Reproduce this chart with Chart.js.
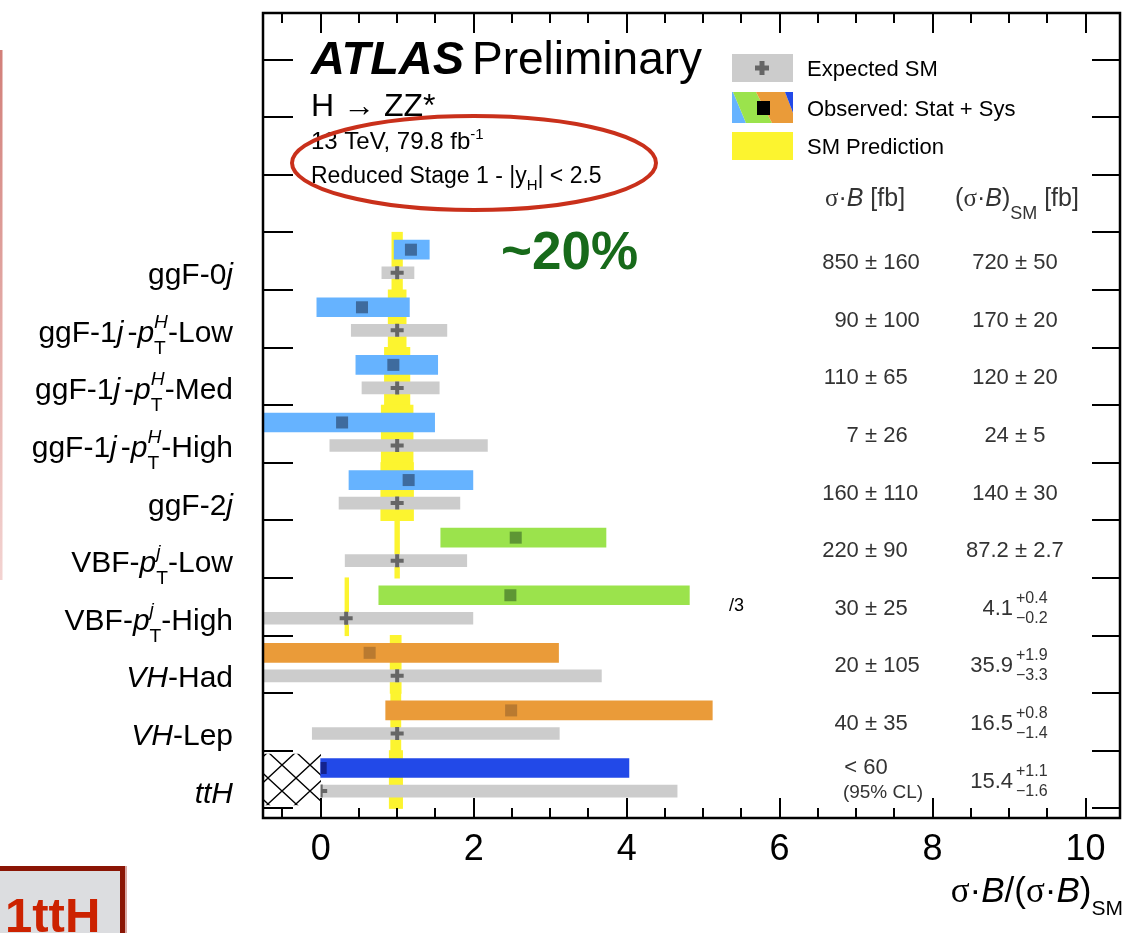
<!DOCTYPE html>
<html>
<head>
<meta charset="utf-8">
<script src="https://cdn.jsdelivr.net/npm/chart.js@4.4.1/dist/chart.umd.min.js"></script>
<style>
  html, body { margin: 0; padding: 0; background: #ffffff; }
  canvas { display: block; }
</style>
</head>
<body>
<canvas id="chart" width="1135" height="933"></canvas>
<script>
// ---- Production bins (top to bottom) ----
const categories = ['ggF-0j', 'ggF-1j-pT-Low', 'ggF-1j-pT-Med', 'ggF-1j-pT-High', 'ggF-2j',
                    'VBF-pT-Low', 'VBF-pT-High', 'VH-Had', 'VH-Lep', 'ttH'];

// Observed sigma*B / (sigma*B)_SM, with total (stat + sys) interval
const obsRatio = [1.18, 0.54, 0.95, 0.28, 1.15, 2.55, 2.48, 0.64, 2.49, 0.00];
const obsLow   = [0.96, -0.05, 0.46, -0.80, 0.37, 1.57, 0.76, -1.85, 0.85, 0.00];
const obsHigh  = [1.42, 1.16, 1.53, 1.49, 1.99, 3.73, 4.82, 3.11, 5.12, 4.03];

// Expected (SM) ratio with its expected interval
const expRatio = [1, 1, 1, 1, 1, 1, 1, 1, 1, 0];
const expLow   = [0.80, 0.40, 0.54, 0.12, 0.24, 0.32, -1.32, -1.67, -0.11, 0.00];
const expHigh  = [1.22, 1.65, 1.55, 2.18, 1.82, 1.91, 1.99, 3.67, 3.12, 4.66];

// Measured cross sections [fb]
const obsXsec = [850, 90, 110, 7, 160, 220, 30, 20, 40, null];
const obsErr  = [160, 100, 65, 26, 110, 90, 25, 105, 35, null];
const ttHLimit = 60;

// SM predictions [fb]
const smXsec = [720, 170, 120, 24, 140, 87.2, 4.1, 35.9, 16.5, 15.4];
const smUp   = [50, 20, 20, 5, 30, 2.7, 0.4, 1.9, 0.8, 1.1];
const smDown = [50, 20, 20, 5, 30, 2.7, 0.2, 3.3, 1.4, 1.6];
// VBF high-pT bin is shown divided by 3
const displayDivisor = [1, 1, 1, 1, 1, 1, 3, 1, 1, 1];

const xTickLabels = [0, 2, 4, 6, 8, 10];

// ---- Layout constants ----
const X_MIN = -0.754, X_MAX = 10.45;
const Y_MIN = -0.168, Y_MAX = 13.81;
const N = categories.length;
const rowPos = i => N - 1 - i + 0.5;
const OBS_SHIFT = 0.2, EXP_SHIFT = -0.2;
const AREA = { left: 263, right: 1120, top: 13, bottom: 818 };
const ZERO_OFFSET = (AREA.right - AREA.left) * (0 - X_MIN) / (X_MAX - X_MIN);

// ---- Colours ----
const YELLOW = '#fcf42f';
const GREY = '#cccccc';
const groupOf = i => (i < 5 ? 0 : i < 7 ? 1 : i < 9 ? 2 : 3);
const barColours = ['#66b3ff', '#9be34c', '#ea9b39', '#2249e8'];
const markColours = ['#3e6b9e', '#5e9634', '#b97a30', '#13238f'];

// derived bands
const smLo = smXsec.map((v, i) => (1 - smDown[i] / v) / displayDivisor[i]);
const smHi = smXsec.map((v, i) => (1 + smUp[i] / v) / displayDivisor[i]);
const expCentre = expRatio.map((v, i) => v / displayDivisor[i]);

function makeHatch(ctx) {
  const c = document.createElement('canvas');
  c.width = 28; c.height = 26;
  const g = c.getContext('2d');
  g.strokeStyle = '#000';
  g.lineWidth = 1.3;
  g.beginPath();
  g.moveTo(0, 0); g.lineTo(28, 26);
  g.moveTo(28, 0); g.lineTo(0, 26);
  g.stroke();
  const p = ctx.createPattern(c, 'repeat');
  if (p.setTransform) p.setTransform(new DOMMatrix([1, 0, 0, 1, 268, 752]));
  return p;
}

// ---- Rich text helpers ----
function fontStr(f, size) {
  const fam = f === 's' ? '"Liberation Serif", "DejaVu Serif", serif' : '"Liberation Sans", Arial, Helvetica, sans-serif';
  const style = (f === 'i' || f === 'bi') ? 'italic ' : '';
  const weight = (f === 'b' || f === 'bi') ? 'bold ' : '';
  return style + weight + size + 'px ' + fam;
}
function segW(ctx, s, size) {
  if (s.sup || s.sub) {
    const ss = s.sz || size * 0.64;
    let w = 0;
    for (const p of [s.sup, s.sub]) {
      if (p) { ctx.font = fontStr(p.f, ss); w = Math.max(w, ctx.measureText(p.t).width); }
    }
    return w + (s.dx || 0);
  }
  ctx.font = fontStr(s.f, s.sz || size);
  return ctx.measureText(s.t).width + (s.dx || 0);
}
function drawRich(ctx, segs, x, base, size, align) {
  const total = segs.reduce((a, s) => a + segW(ctx, s, size), 0);
  let cx = align === 'right' ? x - total : align === 'center' ? x - total / 2 : x;
  ctx.textAlign = 'left';
  for (const s of segs) {
    const w = segW(ctx, s, size);
    const dx = s.dx || 0;
    if (s.sup || s.sub) {
      const ss = s.sz || size * 0.64;
      if (s.sup) { ctx.font = fontStr(s.sup.f, ss); ctx.fillText(s.sup.t, cx + dx, base - size * 0.47); }
      if (s.sub) { ctx.font = fontStr(s.sub.f, ss); ctx.fillText(s.sub.t, cx + dx, base + size * 0.4); }
    } else {
      ctx.font = fontStr(s.f, s.sz || size);
      ctx.fillText(s.t, cx + dx, base + (s.dy || 0));
    }
    cx += w;
  }
}

const ptH = { sup: { t: 'H', f: 'i' }, sub: { t: 'T' } };
const ptJ = { sup: { t: 'j', f: 'i' }, sub: { t: 'T' } };
const categoryText = [
  [{ t: 'ggF-0' }, { t: 'j', f: 'i' }],
  [{ t: 'ggF-1' }, { t: 'j', f: 'i' }, { t: '-', dx: 4 }, { t: 'p', f: 'i' }, ptH, { t: '-Low' }],
  [{ t: 'ggF-1' }, { t: 'j', f: 'i' }, { t: '-', dx: 4 }, { t: 'p', f: 'i' }, ptH, { t: '-Med' }],
  [{ t: 'ggF-1' }, { t: 'j', f: 'i' }, { t: '-', dx: 4 }, { t: 'p', f: 'i' }, ptH, { t: '-High' }],
  [{ t: 'ggF-2' }, { t: 'j', f: 'i' }],
  [{ t: 'VBF-' }, { t: 'p', f: 'i' }, ptJ, { t: '-Low' }],
  [{ t: 'VBF-' }, { t: 'p', f: 'i' }, ptJ, { t: '-High' }],
  [{ t: 'VH', f: 'i' }, { t: '-Had' }],
  [{ t: 'VH', f: 'i' }, { t: '-Lep' }],
  [{ t: 'ttH', f: 'i' }]
];

function pmText(ctx, val, err, cx, base, size) {
  ctx.font = fontStr('n', size);
  const wl = ctx.measureText(val + ' ').width;
  const wpm = ctx.measureText('\u00b1').width;
  ctx.textAlign = 'left';
  ctx.fillText(val + ' \u00b1 ' + err, cx - wl - wpm / 2, base);
}

// ---- Frame, ticks, labels and annotations ----
const framePlugin = {
  id: 'frame',
  afterDatasetsDraw(chart) {
    const { ctx, chartArea: a, scales: { x, y } } = chart;
    ctx.save();
    ctx.strokeStyle = '#000';
    ctx.lineWidth = 2;
    ctx.beginPath();
    for (let v = -0.5; v <= X_MAX + 1e-9; v += 0.5) {
      const px = Math.round(x.getPixelForValue(v));
      const major = Math.abs(v / 2 - Math.round(v / 2)) < 1e-6;
      const len = major ? 20 : 10;
      ctx.moveTo(px, a.bottom); ctx.lineTo(px, a.bottom - len);
      ctx.moveTo(px, a.top); ctx.lineTo(px, a.top + len);
    }
    for (let k = 0; k <= 13; k++) {
      const py = Math.round(y.getPixelForValue(k));
      ctx.moveTo(a.left, py); ctx.lineTo(a.left + 30, py);
      ctx.moveTo(a.right, py); ctx.lineTo(a.right - 28, py);
    }
    ctx.stroke();
    ctx.lineWidth = 2.5;
    ctx.strokeRect(a.left, a.top, a.right - a.left, a.bottom - a.top);
    ctx.restore();
  },
  afterDraw(chart) {
    const { ctx, chartArea: a, scales: { x, y } } = chart;
    ctx.save();
    ctx.textBaseline = 'alphabetic';
    ctx.fillStyle = '#000';

    // x tick labels
    ctx.font = fontStr('n', 36);
    ctx.textAlign = 'center';
    xTickLabels.forEach(v => ctx.fillText(String(v), x.getPixelForValue(v), 860));

    // axis title
    drawRich(ctx, [{ t: '\u03c3', f: 's' }, { t: '\u00b7' }, { t: 'B', f: 'i' }, { t: '/(' },
                   { t: '\u03c3', f: 's' }, { t: '\u00b7' }, { t: 'B', f: 'i' }, { t: ')' },
                   { t: 'SM', sz: 21, dy: 13 }], 1123, 902, 35, 'right');

    // category labels
    categoryText.forEach((segs, i) => {
      const py = y.getPixelForValue(rowPos(i));
      drawRich(ctx, segs, 233, py + 23, 30, 'right');
    });

    // ATLAS block
    ctx.textAlign = 'left';
    ctx.font = fontStr('bi', 47);
    ctx.fillText('ATLAS', 311, 74);
    ctx.font = fontStr('n', 46);
    ctx.fillText('Preliminary', 472, 74);
    ctx.font = fontStr('n', 32);
    ctx.fillText('H \u2192 ZZ*', 311, 116);
    drawRich(ctx, [{ t: '13 TeV, 79.8 fb' }, { t: '-1', sz: 15, dy: -10 }], 311, 149, 24, 'left');
    drawRich(ctx, [{ t: 'Reduced Stage 1 - |y' }, { t: 'H', sz: 15, dy: 7 }, { t: '| < 2.5' }], 311, 183, 23, 'left');

    // highlight ellipse
    ctx.strokeStyle = '#c9301b';
    ctx.lineWidth = 4;
    ctx.beginPath();
    ctx.ellipse(474, 163, 182, 47, 0, 0, Math.PI * 2);
    ctx.stroke();

    // ~20% note
    ctx.fillStyle = '#176a1a';
    ctx.font = fontStr('b', 53);
    ctx.fillText('~20%', 501, 269);

    // legend
    ctx.fillStyle = GREY;
    ctx.fillRect(732, 54, 61, 28);
    ctx.strokeStyle = '#666';
    ctx.lineWidth = 5;
    ctx.beginPath();
    ctx.moveTo(755, 68); ctx.lineTo(769, 68);
    ctx.moveTo(762, 61); ctx.lineTo(762, 75);
    ctx.stroke();

    ctx.save();
    ctx.beginPath(); ctx.rect(732, 92, 61, 31); ctx.clip();
    const stripes = [[barColours[0], 700, 700, 733, 746], [barColours[1], 733, 746, 756, 772],
                     [barColours[2], 756, 772, 785, 797], [barColours[3], 785, 797, 830, 830]];
    stripes.forEach(([c, t0, b0, t1, b1]) => {
      ctx.fillStyle = c;
      ctx.beginPath();
      ctx.moveTo(t0, 92); ctx.lineTo(t1, 92); ctx.lineTo(b1, 123); ctx.lineTo(b0, 123);
      ctx.closePath(); ctx.fill();
    });
    ctx.restore();
    ctx.fillStyle = '#000';
    ctx.fillRect(757, 101, 13, 14);

    ctx.fillStyle = YELLOW;
    ctx.fillRect(732, 132, 61, 28);

    ctx.fillStyle = '#000';
    ctx.font = fontStr('n', 22);
    ctx.textAlign = 'left';
    ctx.fillText('Expected SM', 807, 76);
    ctx.fillText('Observed: Stat + Sys', 807, 116);
    ctx.fillText('SM Prediction', 807, 154);

    // column headers
    ctx.fillStyle = '#333';
    drawRich(ctx, [{ t: '\u03c3', f: 's' }, { t: '\u00b7' }, { t: 'B', f: 'i' }, { t: ' [fb]' }], 865, 206, 25, 'center');
    drawRich(ctx, [{ t: '(' }, { t: '\u03c3', f: 's' }, { t: '\u00b7' }, { t: 'B', f: 'i' }, { t: ')' },
                   { t: 'SM', sz: 18, dy: 13 }, { t: ' [fb]' }], 1017, 206, 25, 'center');

    // cross-section columns
    categories.forEach((c, i) => {
      const py = y.getPixelForValue(rowPos(i));
      ctx.fillStyle = '#333';
      if (obsXsec[i] !== null) {
        pmText(ctx, obsXsec[i], obsErr[i], 871, py + 8, 22);
      } else {
        ctx.textAlign = 'center';
        ctx.font = fontStr('n', 22);
        ctx.fillText('< ' + ttHLimit, 866, py - 6);
        ctx.font = fontStr('n', 19);
        ctx.fillText('(95% CL)', 883, py + 18);
      }
      if (smUp[i] === smDown[i]) {
        pmText(ctx, smXsec[i], smUp[i], 1021, py + 8, 22);
      } else {
        ctx.font = fontStr('n', 22);
        ctx.textAlign = 'right';
        ctx.fillText(String(smXsec[i]), 1013, py + 8);
        ctx.font = fontStr('n', 16);
        ctx.textAlign = 'left';
        ctx.fillText('+' + smUp[i], 1016, py - 4);
        ctx.fillText('\u2212' + smDown[i], 1016, py + 16);
      }
    });

    // VBF high-pT scaling note
    ctx.fillStyle = '#000';
    ctx.font = fontStr('n', 18);
    ctx.textAlign = 'left';
    ctx.fillText('/3', 729, y.getPixelForValue(rowPos(6)) + 4);

    // slide decorations
    const grad = ctx.createLinearGradient(0, 50, 0, 580);
    grad.addColorStop(0, '#d27f79');
    grad.addColorStop(1, '#f3d3d1');
    ctx.fillStyle = grad;
    ctx.fillRect(0, 50, 2.5, 530);

    ctx.fillStyle = '#dcdde0';
    ctx.fillRect(0, 866, 124, 67);
    ctx.fillStyle = '#8a1505';
    ctx.fillRect(0, 866, 126, 5);
    ctx.fillRect(120, 866, 5, 67);
    ctx.fillStyle = '#d9a8a4';
    ctx.fillRect(125, 866, 2, 67);
    ctx.fillStyle = '#cc2200';
    ctx.font = fontStr('b', 49);
    ctx.textAlign = 'left';
    ctx.fillText('1ttH', 5, 932);

    ctx.restore();
  }
};

const ctx = document.getElementById('chart').getContext('2d');
const hatch = makeHatch(ctx);
const normalRows = categories.map((c, i) => i).filter(i => i < N - 1);
const ttHRow = N - 1;

new Chart(ctx, {
  type: 'bar',
  data: {
    datasets: [
      {
        type: 'scatter', label: 'Observed marker',
        data: normalRows.map(i => ({ x: obsRatio[i], y: rowPos(i) + OBS_SHIFT })),
        pointStyle: 'rect', pointRadius: 8.5, pointBorderWidth: 0,
        pointBackgroundColor: normalRows.map(i => markColours[groupOf(i)]),
        order: 1
      },
      {
        type: 'scatter', label: 'Expected marker',
        data: normalRows.map(i => ({ x: expCentre[i], y: rowPos(i) + EXP_SHIFT })),
        pointStyle: 'cross', pointRadius: 6.5, pointBorderWidth: 4,
        pointBorderColor: '#666666',
        order: 2
      },
      {
        type: 'scatter', label: 'ttH markers',
        data: [{ x: obsRatio[ttHRow], y: rowPos(ttHRow) + OBS_SHIFT },
               { x: expCentre[ttHRow], y: rowPos(ttHRow) + EXP_SHIFT }],
        pointStyle: ['rect', 'cross'], pointRadius: [8.5, 6.5], pointBorderWidth: [0, 4],
        pointBackgroundColor: [markColours[3], '#666666'],
        pointBorderColor: [markColours[3], '#666666'],
        clip: { left: -ZERO_OFFSET, top: 0, right: 0, bottom: 0 },
        order: 3
      },
      {
        type: 'bar', label: 'Observed: Stat + Sys', indexAxis: 'y', grouped: false,
        data: categories.map((c, i) => ({ x: [obsLow[i], obsHigh[i]], y: rowPos(i) + OBS_SHIFT })),
        backgroundColor: categories.map((c, i) => barColours[groupOf(i)]),
        borderWidth: 0, barThickness: 19, clip: 0, order: 4
      },
      {
        type: 'bar', label: 'Expected SM', indexAxis: 'y', grouped: false,
        data: categories.map((c, i) => ({ x: [expLow[i], expHigh[i]], y: rowPos(i) + EXP_SHIFT })),
        backgroundColor: GREY, borderWidth: 0, barThickness: 12, clip: 0, order: 5
      },
      {
        type: 'bar', label: 'ttH unphysical region', indexAxis: 'y', grouped: false,
        data: [{ x: [X_MIN, 0], y: rowPos(ttHRow) }],
        backgroundColor: hatch, borderWidth: 0, barThickness: 51, clip: 0, order: 6
      },
      {
        type: 'bar', label: 'SM Prediction', indexAxis: 'y', grouped: false,
        data: categories.map((c, i) => ({ x: [smLo[i], smHi[i]], y: rowPos(i) })),
        backgroundColor: YELLOW, borderWidth: 0, barThickness: 58, clip: 0, order: 7
      }
    ]
  },
  options: {
    responsive: false,
    devicePixelRatio: 1,
    animation: false,
    events: [],
    layout: { padding: { left: AREA.left, right: 1135 - AREA.right, top: AREA.top, bottom: 933 - AREA.bottom } },
    scales: {
      x: { type: 'linear', min: X_MIN, max: X_MAX, offset: false, beginAtZero: false, grace: 0, display: false },
      y: { type: 'linear', min: Y_MIN, max: Y_MAX, offset: false, beginAtZero: false, grace: 0, display: false }
    },
    plugins: { legend: { display: false }, tooltip: { enabled: false }, title: { display: false } }
  },
  plugins: [framePlugin]
});
</script>
</body>
</html>
